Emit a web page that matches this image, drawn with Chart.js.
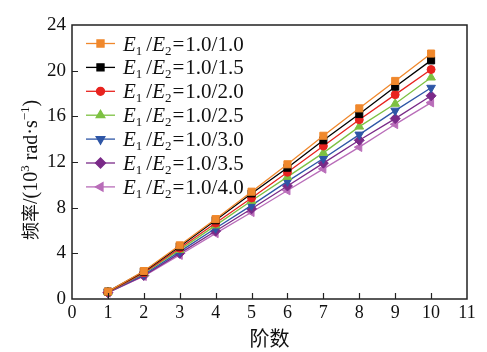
<!DOCTYPE html>
<html>
<head>
<meta charset="utf-8">
<script src="https://cdn.jsdelivr.net/npm/chart.js@4.4.0/dist/chart.umd.min.js"></script>
<style>
  html, body { margin: 0; padding: 0; background: #fff; }
</style>
</head>
<body>
<canvas id="myChart" width="487" height="352"></canvas>
<script>
const ctx = document.getElementById('myChart').getContext('2d');

// 阶数
const orders = [1, 2, 3, 4, 5, 6, 7, 8, 9, 10];
// E1/E2 ratios
const ratios = ['1.0/1.0', '1.0/1.5', '1.0/2.0', '1.0/2.5', '1.0/3.0', '1.0/3.5', '1.0/4.0'];

// frequency values (10^3 rad/s)
const f10 = [0.65, 2.45, 4.7, 7.0, 9.4, 11.8, 14.3, 16.7, 19.1, 21.5];
const f15 = [0.65, 2.4, 4.6, 6.9, 9.25, 11.5, 13.9, 16.2, 18.6, 20.9];
const f20 = [0.6, 2.3, 4.45, 6.65, 8.85, 11.1, 13.4, 15.7, 17.9, 20.1];
const f25 = [0.6, 2.25, 4.3, 6.45, 8.6, 10.7, 12.8, 15.1, 17.1, 19.4];
const f30 = [0.6, 2.15, 4.15, 6.2, 8.2, 10.3, 12.3, 14.4, 16.5, 18.5];
const f35 = [0.55, 2.05, 4.0, 5.95, 7.9, 9.9, 11.9, 13.9, 15.8, 17.8];
const f40 = [0.55, 2.0, 3.85, 5.75, 7.6, 9.5, 11.4, 13.3, 15.3, 17.2];

const xTicks = [0, 1, 2, 3, 4, 5, 6, 7, 8, 9, 10, 11];
const yTicks = [0, 4, 8, 12, 16, 20, 24];

const valores = [f10, f15, f20, f25, f30, f35, f40];
const cores = ['#f0882c', '#000000', '#e8231f', '#7dc142', '#2e56a6', '#7a2a88', '#b96db9'];
const estilos = ['rect', 'rect', 'circle', 'triangle', 'triangle', 'rectRot', 'triangle'];
const rotacoes = [0, 0, 0, 0, 180, 0, -90];
const raios = [5, 5, 4, 5, 5, 5, 5];

const serif = '"Liberation Serif", "DejaVu Serif", serif';

const datasets = valores.map((v, i) => ({
  label: 'E1/E2=' + ratios[i],
  data: orders.map((o, j) => ({ x: o, y: v[j] })),
  borderColor: cores[i],
  backgroundColor: cores[i],
  borderWidth: 1.3,
  pointStyle: estilos[i],
  pointRotation: rotacoes[i],
  pointRadius: raios[i],
  pointBorderWidth: 1,
  tension: 0,
  clip: false
}));

// frame, inward ticks, titles and legend
const desenho = {
  id: 'desenho',
  afterDraw(chart) {
    const c = chart.ctx;
    const a = chart.chartArea;
    const sx = chart.scales.x, sy = chart.scales.y;
    c.save();
    c.strokeStyle = '#222';
    c.lineWidth = 1.5;
    c.strokeRect(a.left, a.top, a.right - a.left, a.bottom - a.top);
    c.lineWidth = 1.2;
    c.beginPath();
    xTicks.slice(1, -1).forEach(t => {
      const px = Math.round(sx.getPixelForValue(t)) + 0.5;
      c.moveTo(px, a.bottom);
      c.lineTo(px, a.bottom - 6);
    });
    yTicks.slice(1, -1).forEach(t => {
      const py = Math.round(sy.getPixelForValue(t)) + 0.5;
      c.moveTo(a.left, py);
      c.lineTo(a.left + 6, py);
    });
    c.stroke();

    // x title
    c.fillStyle = '#111';
    c.font = '20px "Noto Sans CJK SC"';
    c.textAlign = 'center';
    c.textBaseline = 'middle';
    c.fillText('阶数', (a.left + a.right) / 2, 338);

    // y title (rotated, with superscripts)
    c.translate(30, 240);
    c.rotate(-Math.PI / 2);
    c.textAlign = 'left';
    c.textBaseline = 'alphabetic';
    const base = 7;
    let x = 0;
    const parte = (txt, font, dy) => {
      c.font = font;
      c.fillText(txt, x, base + dy);
      x += c.measureText(txt).width;
    };
    parte('频率', '18px "Noto Sans CJK SC"', 0);
    parte('/(10', '20px ' + serif, 0);
    parte('3', '13px ' + serif, -8);
    parte(' rad·s', '20px ' + serif, 0);
    parte('−1', '13px ' + serif, -8);
    parte(')', '20px ' + serif, 0);
    c.setTransform(1, 0, 0, 1, 0, 0);

    // legend
    const x0 = 86, x1 = 115, tx = 123, y0 = 43.5, dy = 23.9;
    ratios.forEach((r, i) => {
      const y = y0 + i * dy;
      c.strokeStyle = cores[i];
      c.fillStyle = cores[i];
      c.lineWidth = 1.3;
      c.beginPath();
      c.moveTo(x0, y);
      c.lineTo(x1, y);
      c.stroke();
      Chart.helpers.drawPoint(c, {
        pointStyle: estilos[i], radius: raios[i], rotation: rotacoes[i], borderWidth: 1
      }, (x0 + x1) / 2, y);
      c.fillStyle = '#111';
      let px = tx;
      const b = y + 7;
      const t = (txt, font, off, gap) => {
        c.font = font;
        c.fillText(txt, px, b + off);
        px += c.measureText(txt).width + (gap || 0);
      };
      t('E', 'italic 21px ' + serif, 0, 0);
      t('1', '13px ' + serif, 4, 4);
      t('/', '21px ' + serif, 0, 0);
      t('E', 'italic 21px ' + serif, 0, 0);
      t('2', '13px ' + serif, 4, 1);
      t('=', '21px ' + serif, 0, 1);
      t(r, '21px ' + serif, 0, 0);
    });
    c.restore();
  }
};

new Chart(ctx, {
  type: 'line',
  data: { datasets: datasets },
  options: {
    responsive: false,
    animation: false,
    layout: { padding: { top: 25, right: 20, left: 0, bottom: 0 } },
    plugins: {
      legend: { display: false },
      tooltip: { enabled: false }
    },
    scales: {
      x: {
        type: 'linear',
        min: 0,
        max: 11,
        afterFit: s => { s.height = 53; },
        afterBuildTicks: s => { s.ticks = xTicks.map(v => ({ value: v })); },
        grid: { display: false, drawTicks: false, tickLength: 0 },
        border: { display: false },
        ticks: { color: '#111', padding: 3, font: { family: serif, size: 18 } }
      },
      y: {
        min: 0,
        max: 24,
        afterFit: s => { s.width = 72; },
        afterBuildTicks: s => { s.ticks = yTicks.map(v => ({ value: v })); },
        grid: { display: false, drawTicks: false, tickLength: 0 },
        border: { display: false },
        ticks: { color: '#111', padding: 6, font: { family: serif, size: 19 } }
      }
    }
  },
  plugins: [desenho]
});
</script>
</body>
</html>
